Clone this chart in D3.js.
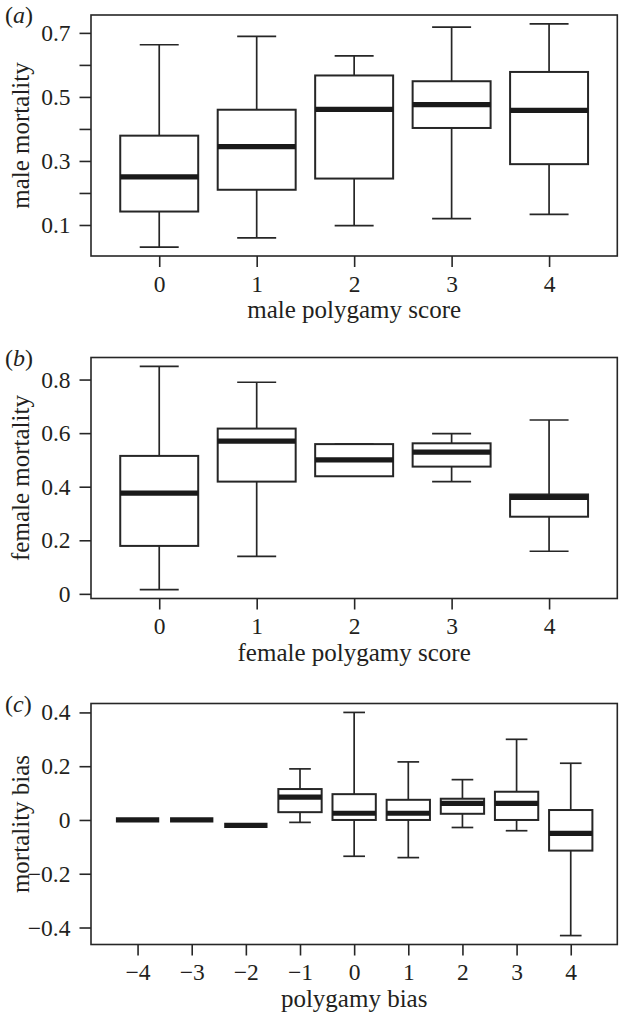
<!DOCTYPE html>
<html>
<head>
<meta charset="utf-8">
<script src="https://cdn.jsdelivr.net/npm/d3@7"></script>
<style>
html,body{margin:0;padding:0;background:#fff;}
svg{display:block;}
text{font-family:"Liberation Serif","Times New Roman",serif;fill:#231f20;}
</style>
</head>
<body>
<svg id="chart" width="619" height="1013"></svg>
<script>
// ---- Panel (a): male polygamy score vs male mortality
const catsA = ["0","1","2","3","4"];
const aLo  = [0.031,0.060,0.098,0.120,0.133];
const aQ1  = [0.142,0.210,0.245,0.403,0.290];
const aMed = [0.250,0.345,0.461,0.476,0.458];
const aQ3  = [0.379,0.460,0.567,0.549,0.578];
const aHi  = [0.663,0.689,0.628,0.718,0.728];
const aTicks = [0.1,0.2,0.3,0.4,0.5,0.6,0.7];
const aLabeled = [0.1,0.3,0.5,0.7];

// ---- Panel (b): female polygamy score vs female mortality
const catsB = ["0","1","2","3","4"];
const bLo  = [0.016,0.140,0.439,0.419,0.159];
const bQ1  = [0.179,0.419,0.439,0.475,0.288];
const bMed = [0.376,0.570,0.500,0.529,0.360];
const bQ3  = [0.515,0.617,0.559,0.562,0.371];
const bHi  = [0.849,0.790,0.559,0.598,0.649];
const bTicks = [0,0.2,0.4,0.6,0.8];
const bLabeled = [0,0.2,0.4,0.6,0.8];

// ---- Panel (c): polygamy bias vs mortality bias
const catsC = ["-4","-3","-2","-1","0","1","2","3","4"];
const cLo  = [0,0,-0.020,-0.009,-0.135,-0.140,-0.028,-0.040,-0.430];
const cQ1  = [0,0,-0.020, 0.029, 0.000, 0.000, 0.023, 0.000,-0.114];
const cMed = [0,0,-0.020, 0.085, 0.025, 0.025, 0.062, 0.062,-0.050];
const cQ3  = [0,0,-0.020, 0.115, 0.096, 0.075, 0.079, 0.105, 0.037];
const cHi  = [0,0,-0.020, 0.190, 0.400, 0.216, 0.150, 0.300, 0.211];
const cTicks = [-0.4,-0.2,0,0.2,0.4];
const cLabeled = [-0.4,-0.2,0,0.2,0.4];

const panels = [
  {tag:"a", cats:catsA, lo:aLo, q1:aQ1, med:aMed, q3:aQ3, hi:aHi, ticks:aTicks, labeled:aLabeled,
   ylab:"male mortality", xlab:"male polygamy score", top:15},
  {tag:"b", cats:catsB, lo:bLo, q1:bQ1, med:bMed, q3:bQ3, hi:bHi, ticks:bTicks, labeled:bLabeled,
   ylab:"female mortality", xlab:"female polygamy score", top:357.5},
  {tag:"c", cats:catsC, lo:cLo, q1:cQ1, med:cMed, q3:cQ3, hi:cHi, ticks:cTicks, labeled:cLabeled,
   ylab:"mortality bias", xlab:"polygamy bias", top:703.5}
];

const svg = d3.select("#chart");
const left = 91, right = 617.3, H = 241;
const lineCol = "#262626";
const fmt = d3.format("");
function lab(v){ return fmt(+v.toFixed(2)); }

panels.forEach(p => {
  const n = p.cats.length;
  const g = svg.append("g");
  const top = p.top, bottom = top + H;
  // R-style 4% axis extension
  const x = d3.scaleLinear().domain([0.5 - 0.04*n, n + 0.5 + 0.04*n]).range([left, right]);
  const dmin = d3.min(p.lo), dmax = d3.max(p.hi), ext = (dmax - dmin)*0.04;
  const y = d3.scaleLinear().domain([dmin - ext, dmax + ext]).range([bottom, top]);
  const unit = x(2) - x(1);
  const bw = 0.8*unit, cw = 0.4*unit;

  // axes
  const yAxis = d3.axisLeft(y).tickValues(p.ticks).tickSize(11.5).tickPadding(9)
    .tickFormat(v => p.labeled.some(l => Math.abs(l - v) < 1e-9) ? lab(v) : "");
  const ya = g.append("g").attr("transform", `translate(${left},0)`).call(yAxis);
  const xAxis = d3.axisBottom(x).tickValues(d3.range(1, n+1)).tickSize(11).tickPadding(8)
    .tickFormat((d,i) => p.cats[i].replace("-", "\u2212"));
  const xa = g.append("g").attr("transform", `translate(0,${bottom})`).call(xAxis);
  [ya, xa].forEach(a => {
    a.select(".domain").remove();
    a.selectAll(".tick line").attr("stroke", lineCol).attr("stroke-width", 1.6);
    a.selectAll(".tick text").attr("font-size", 23.5).attr("font-family", "Liberation Serif").attr("fill", "#231f20");
  });
  xa.selectAll(".tick text").attr("dy", "0.71em");

  // frame
  g.append("rect").attr("x", left).attr("y", top).attr("width", right-left).attr("height", H)
    .attr("fill", "none").attr("stroke", lineCol).attr("stroke-width", 1.6);

  // boxes
  const data = p.cats.map((c,i) => ({i, lo:p.lo[i], q1:p.q1[i], med:p.med[i], q3:p.q3[i], hi:p.hi[i]}));
  const bx = g.selectAll(".box").data(data).join("g").attr("class","box");
  bx.append("line").attr("x1", d => x(d.i+1)).attr("x2", d => x(d.i+1))
    .attr("y1", d => y(d.hi)).attr("y2", d => y(d.q3)).attr("stroke", lineCol).attr("stroke-width", 1.7);
  bx.append("line").attr("x1", d => x(d.i+1)).attr("x2", d => x(d.i+1))
    .attr("y1", d => y(d.q1)).attr("y2", d => y(d.lo)).attr("stroke", lineCol).attr("stroke-width", 1.7);
  bx.append("line").attr("x1", d => x(d.i+1) - cw/2).attr("x2", d => x(d.i+1) + cw/2)
    .attr("y1", d => y(d.hi)).attr("y2", d => y(d.hi)).attr("stroke", lineCol).attr("stroke-width", 1.7);
  bx.append("line").attr("x1", d => x(d.i+1) - cw/2).attr("x2", d => x(d.i+1) + cw/2)
    .attr("y1", d => y(d.lo)).attr("y2", d => y(d.lo)).attr("stroke", lineCol).attr("stroke-width", 1.7);
  bx.filter(d => d.q3 > d.q1).append("rect")
    .attr("x", d => x(d.i+1) - bw/2).attr("width", bw)
    .attr("y", d => y(d.q3)).attr("height", d => y(d.q1) - y(d.q3))
    .attr("fill", "#fff").attr("stroke", lineCol).attr("stroke-width", 2);
  bx.append("line").attr("x1", d => x(d.i+1) - bw/2).attr("x2", d => x(d.i+1) + bw/2)
    .attr("y1", d => y(d.med)).attr("y2", d => y(d.med)).attr("stroke", "#1a1a1a").attr("stroke-width", 5.2);

  // axis titles
  g.append("text").attr("x", (left+right)/2).attr("y", bottom + 62)
    .attr("text-anchor", "middle").attr("font-size", 25).text(p.xlab);
  g.append("text").attr("transform", `translate(29,${(top+bottom)/2}) rotate(-90)`)
    .attr("text-anchor", "middle").attr("font-size", 25).text(p.ylab);
  // panel tag
  const t = g.append("text").attr("x", 5).attr("y", top + 8).attr("font-size", 24);
  t.append("tspan").text("(");
  t.append("tspan").attr("font-style", "italic").text(p.tag);
  t.append("tspan").text(")");
});
</script>
</body>
</html>
